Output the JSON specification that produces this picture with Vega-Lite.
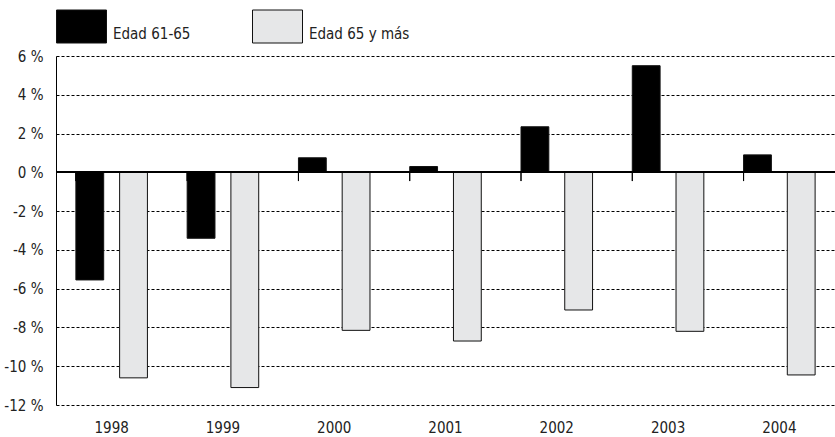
{
  "$schema": "https://vega.github.io/schema/vega-lite/v6.json",
  "width": 779,
  "height": 349,
  "autosize": {"type": "none"},
  "padding": {"left": 56, "top": 56, "right": 0, "bottom": 32},
  "background": "white",
  "data": {"values": [
    {"year": "1998", "group": "Edad 61-65", "value": -5.55},
    {"year": "1998", "group": "Edad 65 y más", "value": -10.6},
    {"year": "1999", "group": "Edad 61-65", "value": -3.4},
    {"year": "1999", "group": "Edad 65 y más", "value": -11.1},
    {"year": "2000", "group": "Edad 61-65", "value": 0.75},
    {"year": "2000", "group": "Edad 65 y más", "value": -8.15},
    {"year": "2001", "group": "Edad 61-65", "value": 0.3},
    {"year": "2001", "group": "Edad 65 y más", "value": -8.7},
    {"year": "2002", "group": "Edad 61-65", "value": 2.35},
    {"year": "2002", "group": "Edad 65 y más", "value": -7.1},
    {"year": "2003", "group": "Edad 61-65", "value": 5.5},
    {"year": "2003", "group": "Edad 65 y más", "value": -8.2},
    {"year": "2004", "group": "Edad 61-65", "value": 0.9},
    {"year": "2004", "group": "Edad 65 y más", "value": -10.45}
  ]},
  "layer": [
    {
      "mark": {"type": "bar", "stroke": "#111", "strokeWidth": 1},
      "encoding": {
        "x": {
          "field": "year", "type": "ordinal",
          "scale": {"paddingInner": 0.357, "paddingOuter": 0.1786},
          "axis": {"title": null, "labelAngle": 0}
        },
        "xOffset": {"field": "group", "type": "nominal", "scale": {"paddingInner": 0.364, "paddingOuter": 0}},
        "y": {
          "field": "value", "type": "quantitative",
          "scale": {"domain": [-12, 6], "nice": false, "zero": false},
          "axis": {"title": null, "values": [-12, -10, -8, -6, -4, -2, 0, 2, 4, 6], "labelExpr": "datum.value + ' %'"}
        },
        "color": {
          "field": "group", "type": "nominal",
          "scale": {"domain": ["Edad 61-65", "Edad 65 y más"], "range": ["#000000", "#e6e7e8"]},
          "legend": {
            "title": null, "orient": "top", "direction": "horizontal",
            "symbolType": "M-1,-0.66H1V0.66H-1Z", "symbolSize": 2500,
            "symbolStrokeColor": "#111", "symbolStrokeWidth": 1, "symbolOpacity": 1,
            "labelOffset": 6, "columnPadding": 59, "offset": 11, "padding": 0,
            "labelFontSize": 15, "labelBaseline": "top",
            "labelFont": "DejaVu Sans Condensed, sans-serif",
            "labelColor": "#222"
          }
        }
      }
    },
    {
      "mark": {"type": "rule", "color": "#000", "strokeWidth": 1.5},
      "encoding": {
        "y": {"datum": 0, "type": "quantitative",
          "axis": {"title": null, "values": [-12, -10, -8, -6, -4, -2, 0, 2, 4, 6], "labelExpr": "datum.value + ' %'"}}
      }
    },
    {
      "mark": {"type": "rule", "color": "#000", "strokeWidth": 1},
      "encoding": {
        "x": {"field": "year", "type": "ordinal", "bandPosition": 0, "axis": {"title": null, "labelAngle": 0}},
        "y": {"datum": 0, "type": "quantitative",
          "axis": {"title": null, "values": [-12, -10, -8, -6, -4, -2, 0, 2, 4, 6], "labelExpr": "datum.value + ' %'"}},
        "y2": {"datum": -0.45}
      }
    }
  ],
  "config": {
    "view": {"stroke": null},
    "axisX": {
      "domain": false, "ticks": false, "grid": false,
      "labelPadding": 15, "labelFontSize": 15,
      "labelFont": "DejaVu Sans Condensed, sans-serif", "labelColor": "#222"
    },
    "axisY": {
      "labelOverlap": false, "domain": true, "domainColor": "#000", "domainWidth": 1,
      "ticks": false, "labelPadding": 13, "labelFontSize": 15,
      "labelFont": "DejaVu Sans Condensed, sans-serif", "labelColor": "#222",
      "grid": true, "gridColor": "#000", "gridDash": [3, 2], "gridWidth": 1, "gridOpacity": 1
    }
  }
}
